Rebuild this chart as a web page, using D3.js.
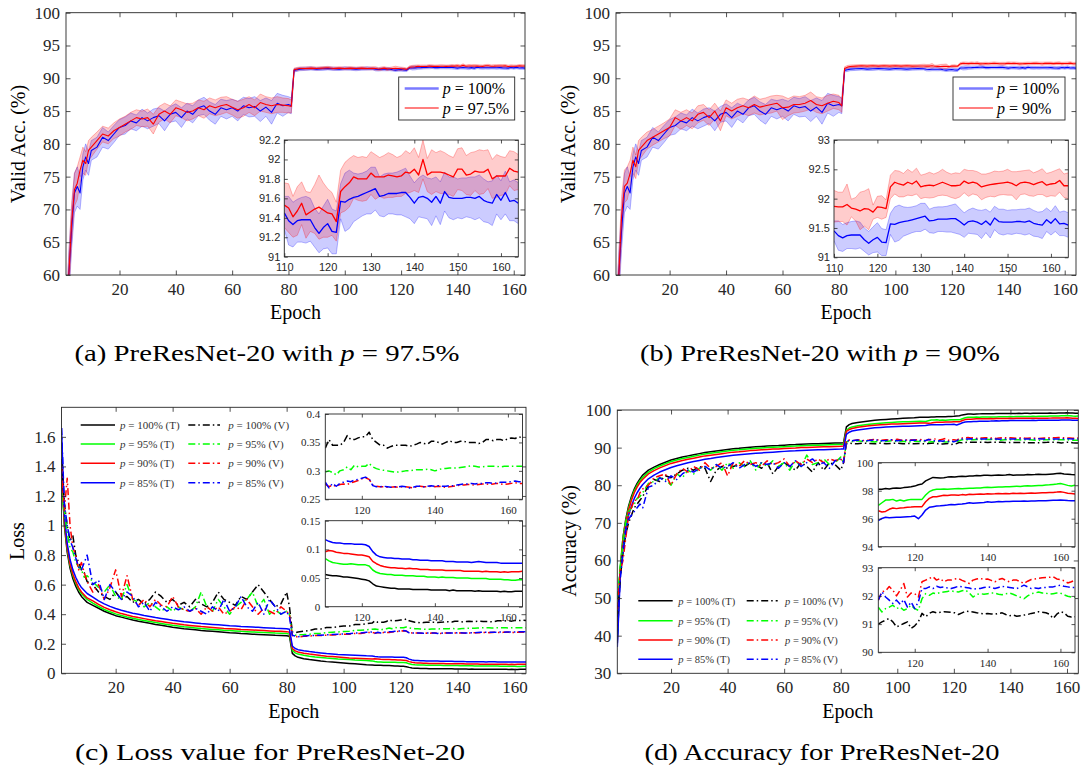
<!DOCTYPE html>
<html><head><meta charset="utf-8">
<script src="https://cdn.jsdelivr.net/npm/d3@7"></script>
<style>body{margin:0;background:#fff}svg{display:block}</style>
</head><body>
<svg id="c" width="1081" height="771"></svg>
<script>
// ---------------- DATA ----------------
const EP = [1,2,3,4,5,6,7,8,9,10,
 12,14,16,18,20,22,24,26,28,30,32,34,36,38,40,42,44,46,48,50,52,54,56,58,60,62,64,66,68,70,72,74,76,78,80,
 81,82,83,84, 86,88,90,92,94,96,98,100,102,104,106,108,
 110,111,112,113,114,115,116,117,118,119,120,121,122,123,124,125,126,127,128,129,
 130,131,132,133,134,135,136,137,138,139,140,141,142,143,144,145,146,147,148,149,
 150,151,152,153,154,155,156,157,158,159,160,161,162,163,164];

// panels (a),(b): validation accuracy, mean and std
const acc100 = [50,60,67,72.5,73.5,72.5,76.5,78,77,79,
 79.5,81,80.5,81.5,82.5,82.8,83.5,83.2,84,83.5,84,84.3,83.5,84.5,84.8,84,85,84.5,85.5,85.8,85,84.5,85.5,85.2,85.5,85,85.8,85.5,85.7,85,85.6,84.8,86.2,85.8,86,
 85.8,91.2,91.3,91.4, 91.45,91.5,91.4,91.45,91.5,91.45,91.4,91.5,91.45,91.4,91.45,91.5,
 91.45,91.37,91.33,91.37,91.38,91.38,91.38,91.3,91.24,91.3,
 91.34,91.26,91.25,91.57,91.56,91.59,91.61,91.62,91.64,91.66,
 91.68,91.7,91.62,91.63,91.65,91.65,91.65,91.66,91.66,91.61,
 91.55,91.61,91.62,91.6,91.56,91.62,91.55,91.67,91.61,91.6,
 91.6,91.6,91.61,91.61,91.6,91.62,91.58,91.56,91.55,91.64,
 91.58,91.66,91.57,91.58,91.55];
const sd100 = [3,3.5,3,3,3,2.5,2,2,1.8,1.5,
 1.5,1.5,1.3,1.3,1.2,1.3,1.2,1.2,1.3,1.2,1.3,1.2,1.5,1.2,1.3,1.5,1.2,1.3,1.2,1.3,1.4,1.5,1.3,1.4,1.3,1.5,1.3,1.4,1.5,1.6,1.4,1.8,1.5,1.6,1.2,
 1.2,0.25,0.25,0.25, 0.25,0.25,0.22,0.25,0.22,0.25,0.22,0.25,0.22,0.25,0.22,0.25,
 0.17,0.25,0.23,0.22,0.23,0.24,0.22,0.2,0.2,0.22,
 0.25,0.23,0.22,0.18,0.3,0.3,0.25,0.23,0.22,0.22,
 0.24,0.22,0.2,0.22,0.21,0.21,0.22,0.23,0.25,0.22,
 0.21,0.2,0.22,0.21,0.24,0.2,0.22,0.2,0.21,0.22,
 0.2,0.21,0.2,0.21,0.22,0.22,0.22,0.21,0.23,0.2,
 0.2,0.22,0.2,0.21,0.21];
const acc975 = [52,60,68,73,74,76,77.5,77,79,79.5,
 80.5,81.5,81.2,82,82.5,83,83.5,84,83.8,84,83,84.5,85,84.5,85.5,85.2,84.8,85,85.5,85.2,85.8,85.5,85.8,86,85.6,85.2,85.5,86,85.5,86.3,86,85.8,86,85.9,85.8,
 85.7,91.3,91.4,91.5, 91.5,91.55,91.5,91.55,91.6,91.5,91.55,91.5,91.55,91.5,91.55,91.5,
 91.53,91.5,91.41,91.47,91.55,91.43,91.46,91.49,91.51,91.48,
 91.45,91.44,91.36,91.67,91.72,91.76,91.82,91.8,91.8,91.8,
 91.86,91.82,91.82,91.82,91.84,91.83,91.82,91.83,91.87,91.86,
 91.9,91.84,92.0,91.84,91.87,91.87,91.87,91.86,91.84,91.82,
 91.9,91.9,91.84,91.85,91.88,91.87,91.87,91.9,91.8,91.83,
 91.83,91.83,91.91,91.88,91.87];
const sd975 = [3,3,3,2.5,2.5,2,2,1.8,1.5,1.5,
 1.3,1.2,1.2,1.2,1.3,1.2,1.3,1.2,1.2,1.3,1.5,1.2,1.2,1.3,1.2,1.2,1.3,1.2,1.2,1.3,1.2,1.2,1.3,1.2,1.2,1.3,1.3,1.2,1.2,1.3,1.2,1.2,1.2,1.1,1.1,
 1.0,0.25,0.25,0.22, 0.22,0.2,0.22,0.2,0.22,0.2,0.22,0.2,0.22,0.2,0.22,0.2,
 0.23,0.25,0.21,0.25,0.22,0.24,0.2,0.25,0.33,0.28,
 0.25,0.22,0.2,0.22,0.25,0.25,0.22,0.22,0.23,0.22,
 0.22,0.23,0.2,0.22,0.23,0.22,0.2,0.21,0.22,0.2,
 0.22,0.18,0.2,0.17,0.23,0.2,0.22,0.21,0.2,0.2,
 0.21,0.22,0.2,0.22,0.2,0.23,0.22,0.2,0.2,0.22,
 0.2,0.19,0.18,0.2,0.18];
const acc90 = [52,60,69,73.5,74,75.5,77.5,76.5,79,79.5,
 80.5,81,81.5,82,82.5,84,83.5,84,83.5,84.5,84.8,84,85,83.5,85.5,85,85.5,85.8,85.5,86,85.6,85.8,86,86.2,85.5,85.6,86,86,86.2,86.6,86,85.8,86.2,86.5,86.3,
 85.8,91.5,91.7,91.8, 91.85,91.9,91.85,91.9,91.85,91.9,91.85,91.9,91.85,91.9,91.85,91.88,
 91.87,91.86,91.86,91.9,91.84,91.82,91.79,91.83,91.82,91.77,
 91.86,91.85,91.83,92.2,92.28,92.25,92.23,92.28,92.25,92.3,
 92.2,92.22,92.23,92.22,92.25,92.28,92.25,92.22,92.22,92.23,
 92.3,92.26,92.28,92.26,92.2,92.22,92.24,92.25,92.26,92.27,
 92.28,92.26,92.22,92.27,92.28,92.27,92.24,92.27,92.29,92.23,
 92.25,92.26,92.31,92.22,92.22];
const sd90 = [3,3,3,2.5,2.5,2,2,1.8,1.5,1.5,
 1.3,1.2,1.2,1.2,1.3,1.2,1.3,1.2,1.2,1.3,1.2,1.2,1.2,1.5,1.2,1.2,1.3,1.2,1.2,1.3,1.2,1.2,1.3,1.2,1.8,1.3,1.3,1.2,1.2,1.3,1.2,1.2,1.2,1.1,1.1,
 1.0,0.25,0.25,0.22, 0.2,0.2,0.22,0.2,0.2,0.2,0.22,0.2,0.2,0.2,0.22,0.2,
 0.27,0.25,0.25,0.35,0.15,0.2,0.32,0.3,0.35,0.12,
 0.18,0.2,0.15,0.2,0.2,0.22,0.2,0.22,0.2,0.22,
 0.2,0.2,0.22,0.2,0.2,0.22,0.2,0.2,0.22,0.2,
 0.2,0.22,0.2,0.2,0.22,0.2,0.2,0.22,0.2,0.2,
 0.22,0.2,0.24,0.2,0.2,0.22,0.2,0.2,0.22,0.2,
 0.2,0.22,0.2,0.2,0.22];

// panel (c): loss, training (T) and validation (V)
const lossT100 = [1.45,1.0,0.82,0.71,0.64,0.59,0.55,0.52,0.5,0.48,
 0.46,0.44,0.42,0.405,0.39,0.38,0.37,0.36,0.352,0.345,0.338,0.33,0.325,0.318,0.312,0.307,0.302,0.298,0.294,0.29,0.287,0.284,0.281,0.278,0.275,0.273,0.27,0.268,0.265,0.263,0.261,0.259,0.257,0.256,0.254,
 0.25,0.135,0.118,0.108, 0.099,0.093,0.088,0.083,0.079,0.076,0.073,0.07,0.067,0.064,0.061,0.058,
 .056,.055,.054,.054,.053,.052,.052,.051,.05,.049,
 .048,.047,.045,.04,.036,.035,.034,.033,.032,.032,
 .031,.031,.031,.031,.03,.03,.03,.03,.03,.029,
 .029,.029,.029,.029,.028,.029,.028,.028,.028,.028,
 .028,.027,.028,.027,.027,.027,.027,.027,.026,.027,
 .026,.026,.027,.027,.027];
const lossT95 = [1.3,1.02,0.84,0.73,0.66,0.61,0.57,0.54,0.52,0.5,
 0.475,0.452,0.432,0.416,0.402,0.391,0.381,0.372,0.364,0.357,0.35,0.343,0.337,0.331,0.325,0.32,0.315,0.311,0.307,0.303,0.3,0.297,0.294,0.291,0.289,0.287,0.284,0.282,0.28,0.278,0.276,0.274,0.272,0.271,0.269,
 0.265,0.155,0.138,0.13, 0.122,0.116,0.111,0.107,0.103,0.1,0.097,0.095,0.093,0.09,0.088,0.086,
 .084,.08,.077,.076,.075,.074,.074,.075,.074,.073,
 .073,.073,.071,.064,.06,.058,.057,.056,.056,.055,
 .055,.055,.054,.054,.054,.053,.053,.053,.052,.052,
 .052,.051,.052,.051,.051,.051,.05,.05,.05,.05,
 .049,.049,.049,.049,.049,.048,.048,.048,.048,.047,
 .047,.046,.046,.047,.047];
const lossT90 = [1.4,1.03,0.85,0.74,0.67,0.62,0.58,0.55,0.53,0.51,
 0.49,0.466,0.446,0.43,0.416,0.404,0.394,0.385,0.377,0.37,0.363,0.356,0.35,0.344,0.338,0.333,0.328,0.324,0.32,0.316,0.313,0.31,0.307,0.304,0.302,0.3,0.297,0.295,0.293,0.291,0.289,0.287,0.285,0.284,0.282,
 0.278,0.168,0.152,0.144, 0.136,0.13,0.125,0.12,0.116,0.113,0.11,0.107,0.104,0.102,0.1,0.098,
 .096,.098,.097,.095,.094,.093,.093,.092,.091,.09,
 .09,.089,.087,.079,.075,.072,.07,.069,.068,.068,
 .067,.067,.066,.067,.066,.066,.065,.065,.065,.064,
 .064,.064,.064,.063,.063,.063,.063,.063,.062,.062,
 .062,.062,.062,.061,.062,.061,.061,.061,.06,.061,
 .06,.061,.061,.061,.062];
const lossT85 = [1.66,1.08,0.88,0.77,0.7,0.65,0.61,0.58,0.56,0.54,
 0.515,0.49,0.47,0.453,0.439,0.427,0.416,0.407,0.399,0.391,0.384,0.377,0.371,0.365,0.359,0.354,0.349,0.345,0.341,0.337,0.334,0.331,0.328,0.325,0.322,0.32,0.317,0.315,0.313,0.311,0.309,0.307,0.305,0.304,0.302,
 0.298,0.185,0.168,0.16, 0.153,0.147,0.142,0.138,0.134,0.131,0.128,0.126,0.124,0.122,0.12,0.118,
 .117,.114,.112,.111,.111,.11,.11,.11,.109,.109,
 .109,.108,.105,.096,.09,.087,.086,.085,.085,.084,
 .084,.083,.083,.083,.082,.082,.081,.081,.081,.08,
 .08,.08,.08,.079,.079,.079,.078,.078,.078,.078,
 .077,.078,.079,.078,.077,.077,.077,.077,.076,.076,
 .076,.076,.076,.076,.076];
const lossV100 = [1.45,1.15,1.0,0.9,0.93,0.8,0.75,0.7,0.68,0.62,
 0.6,0.55,0.52,0.5,0.55,0.5,0.52,0.48,0.5,0.47,0.5,0.55,0.52,0.48,0.5,0.46,0.48,0.45,0.5,0.47,0.45,0.48,0.55,0.5,0.48,0.46,0.52,0.5,0.55,0.6,0.55,0.5,0.45,0.47,0.55,
 0.45,0.28,0.275,0.28, 0.285,0.29,0.3,0.3,0.31,0.31,0.315,0.32,0.32,0.33,0.33,0.335,
 .34,.355,.345,.345,.345,.35,.362,.355,.355,.358,
 .36,.36,.368,.355,.35,.345,.345,.34,.343,.345,
 .345,.345,.345,.343,.345,.347,.35,.348,.347,.352,
 .352,.35,.347,.35,.353,.35,.35,.352,.352,.35,
 .35,.35,.348,.35,.355,.355,.353,.355,.355,.353,
 .357,.358,.357,.36,.358];
const lossV95 = [1.22,1.1,0.95,0.85,0.82,0.75,0.72,0.7,0.65,0.66,
 0.62,0.58,0.55,0.6,0.52,0.5,0.6,0.5,0.48,0.45,0.48,0.45,0.42,0.45,0.42,0.45,0.43,0.42,0.45,0.55,0.45,0.42,0.5,0.45,0.4,0.45,0.48,0.5,0.55,0.45,0.5,0.4,0.43,0.4,0.42,
 0.4,0.26,0.258,0.26, 0.262,0.265,0.27,0.27,0.275,0.278,0.28,0.283,0.285,0.29,0.292,0.295,
 .298,.3,.297,.293,.3,.302,.307,.302,.31,.307,
 .308,.308,.313,.307,.304,.302,.301,.3,.299,.298,
 .298,.299,.3,.3,.301,.302,.302,.302,.303,.302,
 .3,.302,.304,.304,.305,.305,.305,.306,.307,.308,
 .309,.308,.307,.307,.308,.308,.308,.308,.307,.308,
 .308,.308,.308,.308,.308];
const lossV90 = [1.4,1.1,1.32,1.0,0.85,0.8,0.7,0.75,0.68,0.62,
 0.55,0.6,0.5,0.58,0.7,0.52,0.66,0.5,0.46,0.5,0.45,0.5,0.46,0.45,0.52,0.45,0.43,0.42,0.44,0.4,0.45,0.42,0.45,0.4,0.42,0.45,0.43,0.5,0.45,0.4,0.44,0.42,0.4,0.45,0.42,
 0.4,0.255,0.25,0.245, 0.25,0.252,0.255,0.255,0.258,0.26,0.262,0.265,0.265,0.27,0.27,0.275,
 .277,.272,.275,.273,.276,.277,.276,.279,.281,.283,
 .286,.288,.285,.275,.273,.272,.272,.271,.271,.272,
 .271,.272,.272,.271,.27,.272,.273,.272,.272,.273,
 .272,.273,.272,.271,.272,.273,.274,.275,.275,.276,
 .276,.275,.276,.277,.277,.276,.277,.278,.277,.276,
 .277,.278,.279,.278,.278];
const lossV85 = [1.66,1.15,1.0,0.9,0.85,0.78,0.72,0.7,0.75,0.8,
 0.6,0.63,0.5,0.6,0.55,0.5,0.55,0.52,0.45,0.48,0.42,0.48,0.45,0.42,0.45,0.43,0.45,0.42,0.44,0.42,0.4,0.45,0.42,0.5,0.42,0.45,0.52,0.45,0.42,0.48,0.4,0.5,0.45,0.4,0.42,
 0.38,0.258,0.252,0.248, 0.252,0.255,0.256,0.258,0.26,0.262,0.265,0.266,0.268,0.272,0.273,0.277,
 .28,.27,.278,.273,.278,.28,.282,.281,.284,.285,
 .287,.289,.286,.274,.272,.272,.273,.272,.271,.272,
 .272,.273,.272,.27,.271,.273,.273,.272,.273,.274,
 .273,.274,.273,.273,.274,.274,.275,.276,.277,.277,
 .278,.277,.278,.278,.279,.279,.278,.279,.28,.28,
 .28,.281,.282,.281,.281];

// panel (d): accuracy, training (T) and validation (V)
const accT100 = [38,57,66,71,74.5,77,79,80.5,81.7,82.7,
 84,84.8,85.5,86.1,86.7,87.1,87.5,87.8,88.1,88.4,88.7,88.9,89.1,89.3,89.5,89.7,89.8,89.95,90.1,90.2,90.3,90.4,90.5,90.55,90.65,90.75,90.8,90.9,90.95,91.0,91.05,91.1,91.15,91.2,91.25,
 91.3,95.5,96.1,96.4, 96.7,96.9,97.1,97.25,97.4,97.5,97.6,97.7,97.8,97.9,97.95,98.05,
 98.1,98.1,98.15,98.12,98.18,98.2,98.18,98.22,98.25,98.28,
 98.33,98.43,98.48,98.7,98.83,98.95,98.93,98.9,98.93,98.97,
 99.0,98.98,99.02,99.03,99.02,99.05,99.05,99.08,99.07,99.1,
 99.1,99.08,99.1,99.12,99.1,99.12,99.15,99.1,99.12,99.13,
 99.12,99.15,99.14,99.15,99.17,99.15,99.16,99.18,99.2,99.22,
 99.24,99.2,99.18,99.15,99.14];
const accT95 = [40,58,66,70.5,74,76.5,78.5,80,81.2,82.1,
 83.5,84.4,85.1,85.7,86.3,86.7,87.1,87.4,87.7,88.0,88.3,88.5,88.7,88.9,89.1,89.3,89.4,89.55,89.7,89.8,89.9,90.0,90.1,90.15,90.25,90.35,90.4,90.5,90.55,90.6,90.65,90.7,90.75,90.8,90.85,
 90.9,94.6,95.2,95.5, 95.8,96.0,96.2,96.35,96.5,96.6,96.7,96.8,96.85,96.9,96.95,97.0,
 96.95,97.14,97.33,97.33,97.38,97.26,97.33,97.26,97.33,97.38,
 97.38,97.38,97.38,97.69,97.93,98.05,98.1,98.1,98.12,98.1,
 98.12,98.14,98.15,98.14,98.16,98.17,98.18,98.2,98.19,98.22,
 98.24,98.22,98.25,98.26,98.27,98.29,98.28,98.3,98.32,98.3,
 98.33,98.35,98.34,98.36,98.38,98.38,98.4,98.42,98.45,98.48,
 98.52,98.45,98.38,98.33,98.4];
const accT90 = [42,57,65,70,73.5,76,78,79.5,80.7,81.6,
 83,83.9,84.6,85.2,85.8,86.2,86.6,86.9,87.2,87.5,87.8,88.0,88.2,88.4,88.6,88.8,88.9,89.05,89.2,89.3,89.4,89.5,89.6,89.65,89.75,89.85,89.9,90.0,90.05,90.1,90.15,90.2,90.25,90.3,90.35,
 90.4,94.3,94.8,95.1, 95.4,95.6,95.8,95.95,96.05,96.15,96.25,96.3,96.35,96.42,96.48,96.53,
 96.57,96.48,96.52,96.67,96.76,96.72,96.76,96.78,96.81,96.83,
 96.86,96.86,96.86,97.21,97.45,97.57,97.57,97.62,97.67,97.65,
 97.69,97.7,97.68,97.72,97.7,97.74,97.72,97.75,97.76,97.75,
 97.79,97.77,97.78,97.8,97.78,97.8,97.79,97.81,97.8,97.82,
 97.8,97.82,97.83,97.82,97.84,97.86,97.85,97.87,97.88,97.9,
 97.93,97.88,97.82,97.8,97.76];
const accT85 = [37,55,63,68.5,72,74.5,76.5,78,79.2,80.2,
 81.7,82.7,83.5,84.1,84.7,85.2,85.6,86.0,86.3,86.6,86.9,87.1,87.35,87.55,87.75,87.95,88.1,88.25,88.4,88.5,88.6,88.7,88.8,88.9,89.0,89.1,89.15,89.25,89.3,89.35,89.4,89.45,89.5,89.55,89.6,
 89.65,93.5,94.1,94.4, 94.7,94.9,95.1,95.25,95.35,95.45,95.55,95.6,95.65,95.7,95.75,95.8,
 95.86,96.02,96.1,96.06,96.08,96.1,96.1,96.12,96.14,96.16,
 96.19,96.0,96.26,96.62,96.81,96.86,96.9,96.92,96.95,96.98,
 97.02,97.0,97.04,97.05,97.08,97.14,97.1,97.12,97.14,97.16,
 97.21,97.18,97.2,97.22,97.21,97.23,97.22,97.24,97.25,97.24,
 97.26,97.25,97.27,97.26,97.28,97.29,97.28,97.3,97.31,97.32,
 97.33,97.32,97.3,97.29,97.29];
const accV100 = [45,55,62,67,70,72,74,75,76,77,
 80,81.5,81,82.5,82,83,84,84.5,84,85,84.5,81,84,85,84.5,85,85.5,85,86,85.5,84.5,86,83,85,86,85,84,86,85,83.5,86,84,86,85.5,84,
 86,91.0,91.2,91.1, 91.0,91.2,91.1,91.0,91.2,91.0,91.1,91.2,91.0,91.1,91.0,91.1,
 91.0,91.08,91.14,91.2,91.08,90.9,90.96,91.02,91.08,90.85,
 90.94,91.08,91.38,91.26,91.38,91.44,91.4,91.42,91.44,91.43,
 91.42,91.4,91.34,91.4,91.46,91.44,91.43,91.4,91.38,91.36,
 91.38,91.36,91.35,91.38,91.4,91.34,91.3,91.32,91.28,91.3,
 91.32,91.34,91.38,91.4,91.44,91.42,91.4,91.35,91.2,91.35,
 91.44,91.4,91.28,91.25,91.26];
const accV95 = [50,58,64,70,73,74,75,76.5,77,78,
 80.5,81,82,81.5,80,83,82,84,83,84.5,85,84,85.5,84,86,84.5,86,85,86.5,84,86,85,86.5,85,86,84,86.5,85,88,85.5,86,87,85.5,86,87.5,
 86,91.5,91.7,91.6, 91.8,91.6,91.7,91.5,91.7,91.6,91.8,91.6,91.7,91.5,91.7,91.6,
 91.6,91.43,91.55,91.6,91.67,91.55,91.6,91.49,91.55,91.67,
 91.55,91.49,91.9,92.08,92.02,92.1,92.08,92.12,92.14,92.16,
 92.18,92.15,92.14,92.18,92.2,92.1,91.96,92.05,92.08,92.06,
 92.08,92.1,92.1,92.06,92.04,92.08,92.1,92.06,92.0,91.95,
 91.9,92.0,92.08,92.1,92.14,92.1,92.1,92.06,92.08,92.1,
 92.1,92.04,91.99,91.96,91.95];
const accV90 = [47,57,60,66,72,74,76,76,78,79,
 80,82,82.5,83,80,83,84.5,83.5,85,84,86,84.5,85,86,82.5,86,85,86.5,85.5,86,85,86.5,85.5,86,87,85,86.5,85.5,87,86,87,86,87,86.5,87,
 86,91.9,92.0,91.8, 92.1,91.9,92.0,92.2,91.9,92.1,92.0,92.2,91.9,92.1,92.0,92.2,
 91.85,92.15,92.18,92.33,92.2,92.0,92.2,92.44,91.96,92.1,
 92.08,91.96,92.5,92.56,92.62,92.68,92.56,92.62,92.5,92.56,
 92.56,92.6,92.62,92.55,92.5,92.44,92.56,92.6,92.62,92.58,
 92.6,92.55,92.5,92.58,92.62,92.55,92.5,92.56,92.56,92.5,
 92.44,92.52,92.58,92.6,92.62,92.64,92.65,92.66,92.68,92.6,
 92.58,92.54,92.46,92.5,92.56];
const accV85 = [40,55,62,68,71,72,73,74,75,74,
 79.5,80,82,81,82.5,81.5,83,84,83.5,84.5,85,84,85.5,84.5,85,86,84.5,85.5,86,85,86,85.5,86,84.5,86,85,86.5,85,86,87,85.5,86,84.5,86.5,87,
 86,91.7,91.9,91.8, 92.0,91.8,91.9,92.1,91.8,91.9,92.1,91.8,92.0,91.9,92.0,91.9,
 91.85,92.15,91.96,91.85,91.73,91.85,91.7,91.87,91.6,91.78,
 91.55,91.79,92.26,92.26,92.32,92.26,92.34,92.3,92.32,92.28,
 92.26,92.3,92.34,92.32,92.3,92.28,92.24,92.26,92.26,92.3,
 92.32,92.3,92.26,92.3,92.34,92.32,92.3,92.28,92.26,92.32,
 92.38,92.32,92.26,92.28,92.26,92.3,92.3,92.32,92.32,92.35,
 92.38,92.34,92.32,92.3,92.3];

// tick values
const mainXTicks = [20,40,60,80,100,120,140,160];
const accYTicks = [60,65,70,75,80,85,90,95,100];
const insetABxTicks = [110,120,130,140,150,160];
const insetAyTicks = [91,91.2,91.4,91.6,91.8,92,92.2];
const insetByTicks = [91,91.5,92,92.5,93];
const lossYTicks = [0,0.2,0.4,0.6,0.8,1,1.2,1.4,1.6];
const insetCDxTicks = [120,140,160];
const insetC1yTicks = [0.25,0.3,0.35,0.4];
const insetC2yTicks = [0,0.05,0.1,0.15];
const accDYTicks = [30,40,50,60,70,80,90,100];
const insetD1yTicks = [94,96,98,100];
const insetD2yTicks = [90,91,92,93];
const legendC = ['100%','95%','90%','85%'];

// ---------------- DRAWING ----------------
const svg = d3.select('#c');
const defs = svg.append('defs');
let clipN = 0;
const SERIF = "Liberation Serif, Times New Roman, serif";
const SANS = "Liberation Sans, Arial, sans-serif";
const TXT = '#262626';
const fmt = d => String(+(+d).toFixed(3));

function zip(vals, minEp, sd) {
  const n = Math.min(EP.length, vals.length);
  const out = [];
  for (let i = 0; i < n; i++) if (EP[i] >= minEp) out.push(sd ? [EP[i], vals[i], sd[i]] : [EP[i], vals[i]]);
  return out;
}

function makeAxes(c) {
  const g = svg.append('g');
  const x = d3.scaleLinear().domain(c.xd).range([c.l, c.r]);
  const y = d3.scaleLinear().domain(c.yd).range([c.b, c.t]);
  g.append('rect').attr('x', c.l).attr('y', c.t).attr('width', c.r - c.l).attr('height', c.b - c.t).attr('fill', '#fff');
  const id = 'clip' + (clipN++);
  defs.append('clipPath').attr('id', id).append('rect')
    .attr('x', c.l).attr('y', c.t).attr('width', c.r - c.l).attr('height', c.b - c.t);
  const plot = g.append('g').attr('clip-path', `url(#${id})`);
  return { g, plot, x, y, c };
}

function finishAxes(A) {
  const { g, x, y, c } = A;
  const tl = c.tl;
  const fr = g.append('g');
  const st = s => { s.attr('font-family', null).attr('font-size', null).attr('color', TXT);
    s.selectAll('text').style('font-family', c.font).style('font-size', c.fs + 'px'); };
  fr.append('g').attr('transform', `translate(0,${c.b})`)
    .call(d3.axisBottom(x).tickValues(c.xt).tickSize(-tl).tickSizeOuter(0).tickPadding(c.xpad).tickFormat(fmt)).call(st);
  fr.append('g').attr('transform', `translate(0,${c.t})`)
    .call(d3.axisTop(x).tickValues(c.xt).tickSize(-tl).tickSizeOuter(0).tickFormat('')).call(st);
  fr.append('g').attr('transform', `translate(${c.l},0)`)
    .call(d3.axisLeft(y).tickValues(c.yt).tickSize(-tl).tickSizeOuter(0).tickPadding(c.ypad).tickFormat(fmt)).call(st);
  fr.append('g').attr('transform', `translate(${c.r},0)`)
    .call(d3.axisRight(y).tickValues(c.yt).tickSize(-tl).tickSizeOuter(0).tickFormat('')).call(st);
  fr.selectAll('.domain').remove();
  fr.selectAll('.tick line').attr('stroke', TXT).attr('stroke-width', 0.8);
  fr.append('rect').attr('x', c.l).attr('y', c.t).attr('width', c.r - c.l).attr('height', c.b - c.t)
    .attr('fill', 'none').attr('stroke', TXT).attr('stroke-width', 0.9);
}

function line(A, data, color, w, dash) {
  const gen = d3.line().x(d => A.x(d[0])).y(d => A.y(d[1]));
  const p = A.plot.append('path').datum(data).attr('d', gen).attr('fill', 'none')
    .attr('stroke', color).attr('stroke-width', w).attr('stroke-linejoin', 'round');
  if (dash) p.attr('stroke-dasharray', dash);
}
function band(A, data, color) {
  const ar = d3.area().x(d => A.x(d[0])).y0(d => A.y(d[1] - d[2])).y1(d => A.y(d[1] + d[2]));
  A.plot.append('path').datum(data).attr('d', ar).attr('fill', color).attr('fill-opacity', 0.2).attr('stroke', 'none');
  const lo = d3.line().x(d => A.x(d[0])).y(d => A.y(d[1] - d[2]));
  const hi = d3.line().x(d => A.x(d[0])).y(d => A.y(d[1] + d[2]));
  [lo, hi].forEach(gn => A.plot.append('path').datum(data).attr('d', gn).attr('fill', 'none')
    .attr('stroke', color).attr('stroke-opacity', 0.35).attr('stroke-width', 0.8));
}

function text(x, y, str, o = {}) {
  const t = svg.append('text').attr('x', x).attr('y', y)
    .attr('fill', o.fill || '#000').attr('text-anchor', o.anchor || 'middle')
    .style('font-family', o.font || SERIF).style('font-size', (o.fs || 20) + 'px');
  if (o.rot) t.attr('transform', `rotate(-90,${x},${y})`);
  if (str) t.text(str);
  return t;
}
function mathText(t, before, after) {
  if (before) t.append('tspan').text(before);
  t.append('tspan').attr('font-style', 'italic').text('p');
  t.append('tspan').text(after);
  return t;
}

const DASHDOT = '7,3,1.5,3';

// ---- Panels (a) and (b)
function panelAB(off, redMean, redSd, inset, legendLabel) {
  const A = makeAxes({ l: off.l, r: off.r, t: 12.7, b: 275, xd: [1, 164], yd: [60, 100], xt: mainXTicks, yt: accYTicks,
    font: SERIF, fs: 17, tl: 4.5, xpad: 8, ypad: 6 });
  band(A, zip(acc100, 0, sd100), '#0000ff');
  band(A, zip(redMean, 0, redSd), '#ff0000');
  line(A, zip(acc100, 0), '#0000ff', 1.1);
  line(A, zip(redMean, 0), '#ff0000', 1.1);
  finishAxes(A);
  // legend
  const L = off.leg;
  svg.append('rect').attr('x', L.x).attr('y', 77).attr('width', L.w).attr('height', 43)
    .attr('fill', '#fff').attr('stroke', TXT).attr('stroke-width', 0.9);
  svg.append('line').attr('x1', L.x + 6).attr('x2', L.x + 40).attr('y1', 88.5).attr('y2', 88.5)
    .attr('stroke', '#4d4dff').attr('stroke-width', 2.6).attr('stroke-opacity', 0.75);
  svg.append('line').attr('x1', L.x + 6).attr('x2', L.x + 40).attr('y1', 108).attr('y2', 108)
    .attr('stroke', '#ff0000').attr('stroke-width', 1.2);
  mathText(text(L.x + 44, 94, '', { fs: 16, anchor: 'start' }), '', ' = 100%');
  mathText(text(L.x + 44, 113.5, '', { fs: 16, anchor: 'start' }), '', ' = ' + legendLabel);
  // inset
  const I = makeAxes({ l: inset.l, r: inset.r, t: 140, b: inset.b, xd: [110, 164], yd: inset.yd, xt: insetABxTicks, yt: inset.yt,
    font: SANS, fs: 11, tl: 3.5, xpad: 6.5, ypad: 4 });
  band(I, zip(acc100, 110, sd100), '#0000ff');
  band(I, zip(redMean, 110, redSd), '#ff0000');
  line(I, zip(acc100, 110), '#0000ff', 1.3);
  line(I, zip(redMean, 110), '#ff0000', 1.3);
  finishAxes(I);
  text((off.l + off.r) / 2, 319, 'Epoch', { fs: 20 });
  text(off.ylx, 144, 'Valid Acc. (%)', { fs: 20, rot: true });
}
panelAB({ l: 66, r: 525, leg: { x: 398.7, w: 116 }, ylx: 25 }, acc975, sd975,
  { l: 284.3, r: 518.3, b: 256.7, yd: [91, 92.2], yt: insetAyTicks }, '97.5%');
panelAB({ l: 616, r: 1076, leg: { x: 953, w: 112 }, ylx: 575 }, acc90, sd90,
  { l: 834, r: 1068.3, b: 257.3, yd: [91, 93], yt: insetByTicks }, '90%');

// ---- Panels (c) and (d)
const COLS = ['#000000', '#00ff00', '#ff0000', '#0000ff'];
function panelCD(cfg) {
  const A = makeAxes({ l: cfg.l, r: cfg.r, t: cfg.t, b: 673.3, xd: [1, 164], yd: cfg.yd, xt: mainXTicks, yt: cfg.yt,
    font: SERIF, fs: 17, tl: 4.5, xpad: 8, ypad: 6 });
  cfg.T.forEach((s, i) => line(A, zip(s, 0), COLS[i], 1.5));
  cfg.V.forEach((s, i) => line(A, zip(s, 0), COLS[i], 1.5, DASHDOT));
  finishAxes(A);
  cfg.insets.forEach(ins => {
    const I = makeAxes({ l: cfg.il, r: cfg.ir, t: ins.t, b: ins.b, xd: [110, 164], yd: ins.yd, xt: insetCDxTicks, yt: ins.yt,
      font: SERIF, fs: 11, tl: 3.5, xpad: 6.5, ypad: 5 });
    ins.series.forEach((s, i) => line(I, zip(s, 110), COLS[i], 1.5, ins.dash ? DASHDOT : null));
    finishAxes(I);
  });
  // legend (no box)
  const Lg = cfg.leg;
  legendC.forEach((lab, i) => {
    const yy = Lg.rows[i];
    svg.append('line').attr('x1', Lg.c1[0]).attr('x2', Lg.c1[1]).attr('y1', yy).attr('y2', yy)
      .attr('stroke', COLS[i]).attr('stroke-width', 1.6);
    svg.append('line').attr('x1', Lg.c2[0]).attr('x2', Lg.c2[1]).attr('y1', yy).attr('y2', yy)
      .attr('stroke', COLS[i]).attr('stroke-width', 1.6).attr('stroke-dasharray', DASHDOT);
    mathText(text(Lg.c1[2], yy + 3.8, '', { fs: Lg.fs, anchor: 'start', fill: '#333' }), '', ' = ' + lab + ' (T)');
    mathText(text(Lg.c2[2], yy + 3.8, '', { fs: Lg.fs, anchor: 'start', fill: '#333' }), '', ' = ' + lab + ' (V)');
  });
  text((cfg.l + cfg.r) / 2, 718, 'Epoch', { fs: 20 });
  text(cfg.ylx, 541, cfg.ylab, { fs: 20, rot: true });
}
panelCD({ l: 61.5, r: 526, t: 407.3, yd: [0, 1.8], yt: lossYTicks,
  T: [lossT100, lossT95, lossT90, lossT85], V: [lossV100, lossV95, lossV90, lossV85],
  il: 325.3, ir: 522.5,
  insets: [
    { t: 414, b: 499.3, yd: [0.25, 0.4], yt: insetC1yTicks, series: [lossV100, lossV95, lossV90, lossV85], dash: true },
    { t: 520.7, b: 606.7, yd: [0, 0.15], yt: insetC2yTicks, series: [lossT100, lossT95, lossT90, lossT85], dash: false }],
  leg: { rows: [425, 444, 463.3, 482.7], c1: [80.7, 115, 120], c2: [188.3, 220, 228.3], fs: 11 },
  ylx: 24, ylab: 'Loss' });
panelCD({ l: 617.3, r: 1078.3, t: 410, yd: [30, 100], yt: accDYTicks,
  T: [accT100, accT95, accT90, accT85], V: [accV100, accV95, accV90, accV85],
  il: 878.3, ir: 1075,
  insets: [
    { t: 462.7, b: 546.7, yd: [94, 100], yt: insetD1yTicks, series: [accT100, accT95, accT90, accT85], dash: false },
    { t: 567.7, b: 652.3, yd: [90, 93], yt: insetD2yTicks, series: [accV100, accV95, accV90, accV85], dash: true }],
  leg: { rows: [600.7, 620.7, 640, 659.3], c1: [638.3, 672.7, 678.3], c2: [746.7, 777.7, 785], fs: 10.5 },
  ylx: 576, ylab: 'Accuracy (%)' });

// ---- captions
function caption(cx, y, w, before, after, plain) {
  const t = text(cx, y, '', { fs: 23 }).attr('textLength', w).attr('lengthAdjust', 'spacingAndGlyphs');
  if (plain) t.text(plain); else mathText(t, before, after);
}
caption(267, 361, 385, '(a) PreResNet-20 with ', ' = 97.5%');
caption(820, 361, 360, '(b) PreResNet-20 with ', ' = 90%');
caption(270, 760, 390, null, null, '(c) Loss value for PreResNet-20');
caption(822, 760, 355, null, null, '(d) Accuracy for PreResNet-20');
</script>
</body></html>
